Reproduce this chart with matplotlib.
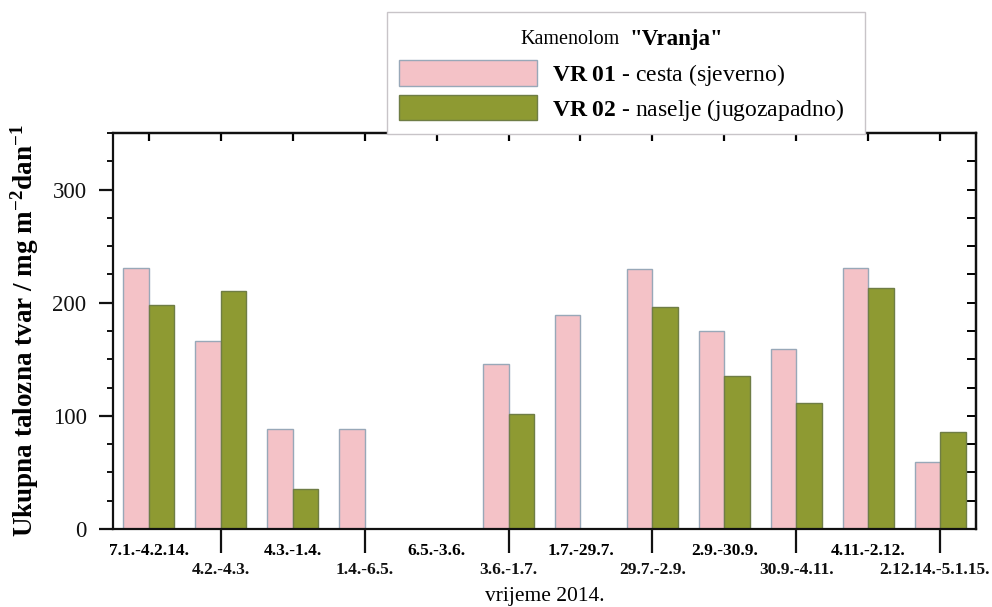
import matplotlib
matplotlib.use("Agg")
import matplotlib.pyplot as plt
from matplotlib.patches import Patch
from matplotlib.ticker import MultipleLocator
from matplotlib.transforms import ScaledTranslation
import numpy as np

plt.rcParams['font.family'] = ['Liberation Serif', 'DejaVu Serif']
plt.rcParams['mathtext.fontset'] = 'custom'
plt.rcParams['mathtext.rm'] = 'Liberation Serif'
plt.rcParams['mathtext.bf'] = 'Liberation Serif:bold'
plt.rcParams['mathtext.it'] = 'Liberation Serif:italic'

periods = ["7.1.-4.2.14.", "4.2.-4.3.", "4.3.-1.4.", "1.4.-6.5.", "6.5.-3.6.", "3.6.-1.7.",
           "1.7.-29.7.", "29.7.-2.9.", "2.9.-30.9.", "30.9.-4.11.", "4.11.-2.12.", "2.12.14.-5.1.15."]
vr01 = [231, 166, 88.5, 88.5, 0, 146, 189.5, 229.5, 175, 159.5, 231, 59.5]
vr02 = [198, 210, 35.5, 0, 0, 102, 0, 196, 135, 111, 213, 86]

pink = '#F4C2C7'
olive = '#8E9A32'

fig = plt.figure(figsize=(9.92, 6.07), dpi=100)
ax = fig.add_axes([113/992, 1-529/607, (976-113)/992, (529-133)/607])

x = np.arange(len(periods))
w = 0.355
ax.bar(x - w/2, vr01, w, color=pink, edgecolor='#98A8B8', linewidth=1.0, zorder=2)
ax.bar(x + w/2, vr02, w, color=olive, edgecolor='#6F7D45', linewidth=1.0, zorder=2)

ax.set_xlim(-0.5, len(periods) - 0.5)
ax.set_ylim(0, 350)

for s in ax.spines.values():
    s.set_linewidth(1.6)
    s.set_color('#111111')

# y ticks
ax.yaxis.set_major_locator(MultipleLocator(100))
ax.yaxis.set_minor_locator(MultipleLocator(25))
ax.tick_params(axis='y', which='major', direction='out', length=10, width=1.6,
               labelsize=16.5, pad=9, colors='#111111')
ax.tick_params(axis='y', which='minor', direction='out', length=4.5, width=1.4, colors='#111111')

# x ticks: even labels in first row (no tick), odd labels in second row with long tick
even = x[::2]
odd = x[1::2]
ax.set_xticks(odd, [periods[i] for i in odd])
ax.set_xticks(even, [periods[i] for i in even], minor=True)
ax.tick_params(axis='x', which='major', direction='out', length=17, width=1.6,
               labelsize=12.5, pad=7, colors='#111111')
ax.tick_params(axis='x', which='minor', length=0, labelsize=12.5, pad=10)
for lab in ax.get_xticklabels(which='both'):
    lab.set_fontweight('bold')
last = ax.get_xticklabels()[-1]
last.set_transform(last.get_transform() + ScaledTranslation(-6/100, 0, fig.dpi_scale_trans))

# top ticks at every category, inward
top = ax.secondary_xaxis('top')
top.set_xticks(x, [''] * len(x))
top.tick_params(direction='in', length=6, width=1.6)
top.spines['top'].set_linewidth(1.6)

# right ticks every 25, inward
right = ax.secondary_yaxis('right')
right.yaxis.set_major_locator(MultipleLocator(25))
right.tick_params(direction='in', length=6.5, width=1.4, labelright=False)
right.spines['right'].set_linewidth(1.6)

ax.set_ylabel(r'Ukupna talozna tvar / mg m$^{\mathbf{-2}}$dan$^{\mathbf{-1}}$',
              fontsize=19.5, fontweight='bold', labelpad=8)
ax.set_xlabel('vrijeme 2014.', fontsize=15.5, labelpad=6)

handles = [Patch(facecolor=pink, edgecolor='#98A8B8', linewidth=1.0),
           Patch(facecolor=olive, edgecolor='#6F7D45', linewidth=1.0)]
labels = [r'$\mathbf{VR\ 01}$ - cesta (sjeverno)', r'$\mathbf{VR\ 02}$ - naselje (jugozapadno)']
leg = fig.legend(handles, labels, loc='upper left',
                 bbox_to_anchor=(387/992, 1-12/607, (865-387)/992, 0), mode='expand',
                 title=' ', title_fontsize=22,
                 fontsize=17, handlelength=5.85, handleheight=1.3, handletextpad=0.64,
                 labelspacing=0.3, borderpad=0.5, borderaxespad=0, fancybox=False,
                 frameon=True, edgecolor='#C8C4C8', framealpha=1)
leg.get_frame().set_linewidth(1.0)

ty = 1 - 40/607
fig.text(620/992, ty, 'Kamenolom', ha='right', va='center', fontsize=14.5, zorder=10)
fig.text(629/992, ty, '"Vranja"', ha='left', va='center', fontsize=16.5,
         fontweight='bold', zorder=10)

fig.savefig('out.png', dpi=100)
